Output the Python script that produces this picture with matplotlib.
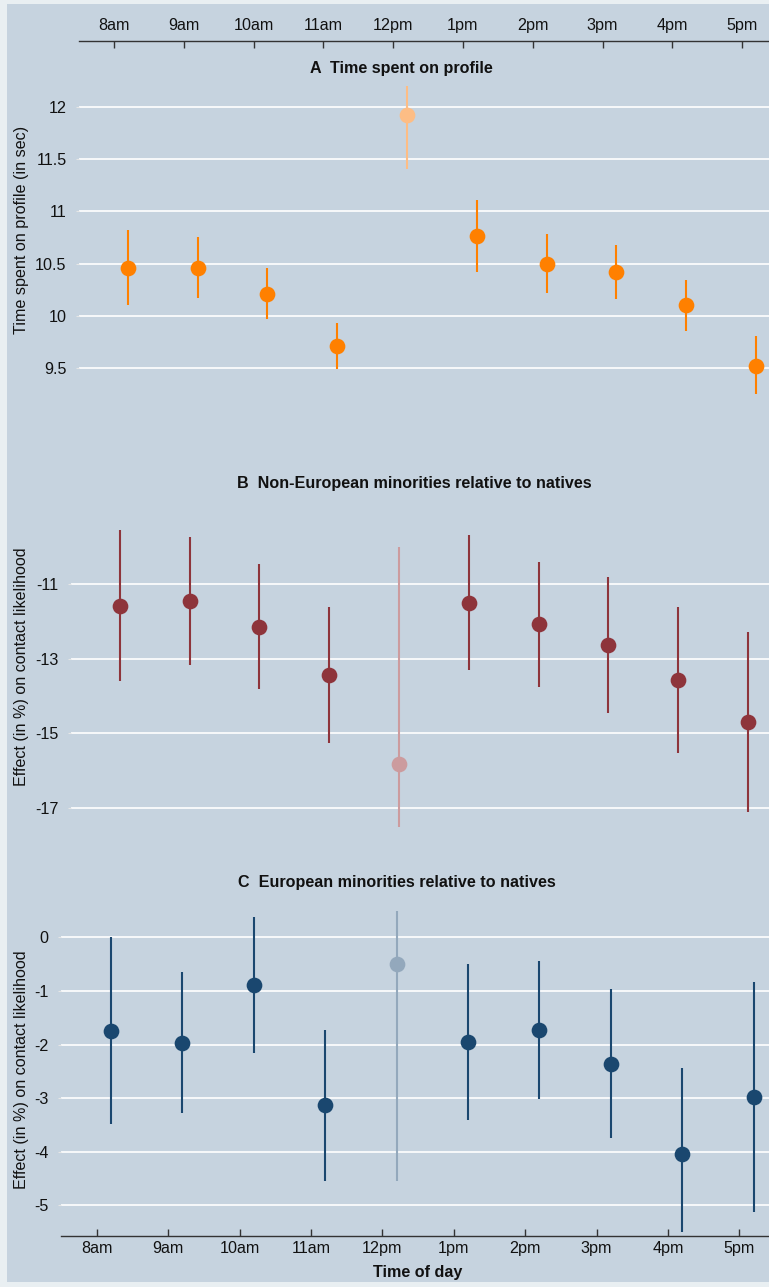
import matplotlib
matplotlib.use("Agg")
import matplotlib.pyplot as plt
from matplotlib.patches import Rectangle

plt.rcParams['font.family'] = ['Liberation Sans', 'DejaVu Sans']
plt.rcParams['axes.unicode_minus'] = False

hours = ["8am", "9am", "10am", "11am", "12pm", "1pm", "2pm", "3pm", "4pm", "5pm"]

# A: time spent on profile (sec)
time_est = [10.46, 10.46, 10.21, 9.71, 11.92, 10.76, 10.50, 10.42, 10.10, 9.52]
time_lo = [10.10, 10.17, 9.97, 9.49, 11.40, 10.42, 10.22, 10.16, 9.86, 9.25]
time_hi = [10.82, 10.75, 10.46, 9.93, 12.20, 11.11, 10.78, 10.68, 10.34, 9.81]

# B: non-European minorities relative to natives (%)
noneu_est = [-11.59, -11.46, -12.15, -13.44, -15.82, -11.50, -12.07, -12.63, -13.57, -14.70]
noneu_lo = [-13.60, -13.17, -13.80, -15.26, -17.50, -13.31, -13.75, -14.45, -15.52, -17.10]
noneu_hi = [-9.55, -9.74, -10.46, -11.62, -10.00, -9.69, -10.40, -10.81, -11.62, -12.29]

# C: European minorities relative to natives (%)
eu_est = [-1.75, -1.97, -0.89, -3.13, -0.50, -1.95, -1.735, -2.36, -4.05, -2.985]
eu_lo = [-3.49, -3.28, -2.15, -4.55, -4.55, -3.40, -3.02, -3.74, -5.49, -5.13]
eu_hi = [0.0, -0.65, 0.38, -1.73, 0.50, -0.50, -0.45, -0.965, -2.43, -0.84]

highlight = 4  # 12pm drawn in a lighter shade

W, H = 769, 1287
BG = '#c6d3df'
FS = 11.6
fig = plt.figure(figsize=(W / 100, H / 100), dpi=100)
fig.patch.set_facecolor('#e9eff2')
fig.patches.append(Rectangle((7 / W, 1 - 1282 / H), 762 / W, 1278 / H,
                             transform=fig.transFigure, facecolor=BG,
                             edgecolor='none', zorder=-5))


def make_ax(l, t, w, b):
    ax = fig.add_axes([l / W, 1 - b / H, w / W, (b - t) / H])
    ax.patch.set_alpha(0)
    for s in ax.spines.values():
        s.set_visible(False)
    ax.grid(axis='y', color='white', linewidth=1.2)
    ax.set_axisbelow(True)
    ax.tick_params(axis='y', length=2.5, color='#e6e6e6', pad=6.5,
                   labelsize=FS, labelcolor='#111111')
    ax.set_xlim(-0.5, 9.5)
    return ax


def draw(ax, est, lo, hi, col, light):
    xs = [i + 0.2 for i in range(len(est))]
    for i, x in enumerate(xs):
        c = light if i == highlight else col
        ax.vlines(x, lo[i], hi[i], color=c, linewidth=1.5, zorder=3)
        ax.plot(x, est[i], 'o', color=c, markersize=11.3,
                markeredgewidth=0, zorder=4)


# panel A
axA = make_ax(79, 41, 698, 440)
draw(axA, time_est, time_lo, time_hi, '#ff8000', '#fdbd85')
axA.set_ylim(8.814, 12.628)
axA.set_yticks([9.5, 10, 10.5, 11, 11.5, 12])
axA.set_yticklabels(["9.5", "10", "10.5", "11", "11.5", "12"])
axA.spines['top'].set_visible(True)
axA.spines['top'].set_color('#333333')
axA.spines['top'].set_linewidth(1.0)
axA.xaxis.tick_top()
axA.set_xticks(range(len(hours)))
axA.set_xticklabels(hours)
axA.tick_params(axis='x', direction='in', length=5, width=1, color='#333333',
                pad=6, labelsize=FS, labelcolor='#111111')

# panel B
axB = make_ax(71, 505.6, 698, 845.5)
draw(axB, noneu_est, noneu_lo, noneu_hi, '#8e343b', '#cc9b9e')
axB.set_ylim(-18, -8.9)
axB.set_yticks([-17, -15, -13, -11])
axB.set_xticks([])

# panel C
axC = make_ax(61, 902.5, 714, 1236)
draw(axC, eu_est, eu_lo, eu_hi, '#1a476f', '#93a8bc')
axC.set_ylim(-5.573, 0.65)
axC.set_yticks([-5, -4, -3, -2, -1, 0])
axC.spines['bottom'].set_visible(True)
axC.spines['bottom'].set_color('#333333')
axC.spines['bottom'].set_linewidth(1.0)
axC.set_xticks(range(len(hours)))
axC.set_xticklabels(hours)
axC.tick_params(axis='x', direction='in', length=5, width=1, color='#333333',
                pad=3.6, labelsize=FS, labelcolor='#111111')

# titles and axis labels
fig.text(401 / W, 1 - 68 / H, "A  Time spent on profile", ha='center',
         va='center', fontsize=FS, fontweight='bold', color='#111111')
fig.text(414 / W, 1 - 483 / H, "B  Non-European minorities relative to natives",
         ha='center', va='center', fontsize=FS, fontweight='bold', color='#111111')
fig.text(397 / W, 1 - 883 / H, "C  European minorities relative to natives",
         ha='center', va='center', fontsize=FS, fontweight='bold', color='#111111')

fig.text(22 / W, 1 - 230 / H, "Time spent on profile (in sec)", rotation=90,
         ha='center', va='center', fontsize=FS, color='#111111')
fig.text(22 / W, 1 - 667 / H, "Effect (in %) on contact likelihood", rotation=90,
         ha='center', va='center', fontsize=FS, color='#111111')
fig.text(22 / W, 1 - 1070 / H, "Effect (in %) on contact likelihood", rotation=90,
         ha='center', va='center', fontsize=FS, color='#111111')
fig.text(418 / W, 1 - 1272 / H, "Time of day", ha='center', va='center',
         fontsize=FS, fontweight='bold', color='#111111')

fig.savefig("out.png", dpi=100, facecolor=fig.get_facecolor())
